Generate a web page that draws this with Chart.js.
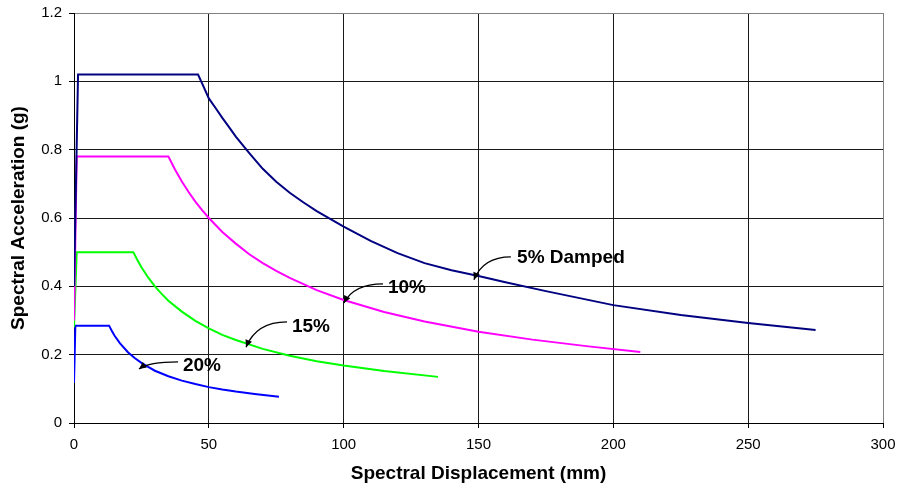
<!DOCTYPE html>
<html>
<head>
<meta charset="utf-8">
<script src="https://cdn.jsdelivr.net/npm/chart.js@4/dist/chart.umd.min.js"></script>
<style>
  html, body { margin: 0; padding: 0; background: #ffffff; }
  #wrap { width: 899px; height: 488px; }
</style>
</head>
<body>
<div id="wrap"><canvas id="grafico-espectro" width="899" height="488"></canvas></div>
<script>
// valores (Sd em mm, Sa em g)
var sd5 = [0, 1.5, 46, 48, 50, 52.5, 55, 57.5, 60, 65, 70, 75, 80, 85, 90, 100, 110, 120, 130, 140, 150, 160, 175, 200, 225, 250, 275];
var sa5 = [0.40, 1.02, 1.02, 0.985, 0.95, 0.922, 0.893, 0.866, 0.838, 0.79, 0.744, 0.706, 0.674, 0.646, 0.62, 0.575, 0.533, 0.497, 0.468, 0.447, 0.430, 0.412, 0.386, 0.345, 0.316, 0.293, 0.272];

var sd10 = [0, 1, 35, 37.5, 40, 42.5, 45, 47.5, 50, 55, 60, 65, 70, 75, 80, 90, 100, 115, 130, 150, 170, 190, 210];
var sa10 = [0.30, 0.78, 0.78, 0.741, 0.707, 0.676, 0.648, 0.623, 0.60, 0.559, 0.525, 0.494, 0.468, 0.445, 0.425, 0.389, 0.36, 0.325, 0.297, 0.267, 0.244, 0.225, 0.208];

var sd15 = [0, 1, 22, 23.5, 25, 27.5, 30, 32.5, 35, 40, 45, 50, 55, 60, 70, 80, 90, 100, 115, 135];
var sa15 = [0.28, 0.50, 0.50, 0.477, 0.456, 0.426, 0.40, 0.378, 0.358, 0.326, 0.299, 0.277, 0.258, 0.243, 0.217, 0.197, 0.181, 0.168, 0.152, 0.135];

var sd20 = [0, 0.5, 13, 14, 15, 17, 20, 22.5, 25, 27.5, 30, 35, 40, 45, 50, 55, 60, 67, 76];
var sa20 = [0.117, 0.285, 0.285, 0.270, 0.256, 0.234, 0.207, 0.190, 0.176, 0.164, 0.153, 0.137, 0.124, 0.114, 0.105, 0.098, 0.092, 0.085, 0.077];

var xTicks = [0, 50, 100, 150, 200, 250, 300];
var yTicks = [0, 0.2, 0.4, 0.6, 0.8, 1, 1.2];

// rotulos com seta: texto, posicao do texto, inicio e ponta da seta (coordenadas do grafico)
var rotulos = [
    { texto: '5% Damped', x: 164.3, y: 0.483, x0: 162.0, y0: 0.486, x1: 148.3, y1: 0.419 },
    { texto: '10%', x: 116.4, y: 0.395, x0: 114.6, y0: 0.407, x1: 100.1, y1: 0.351 },
    { texto: '15%', x: 80.8, y: 0.281, x0: 79.0, y0: 0.296, x1: 63.8, y1: 0.222 },
    { texto: '20%', x: 40.4, y: 0.167, x0: 38.6, y0: 0.179, x1: 24.1, y1: 0.158 }
];

function pontos(xs, ys) {
    return xs.map(function(v, i) { return { x: v, y: ys[i] }; });
}

var pluginRotulos = {
    id: 'rotulos',
    afterDatasetsDraw: function(chart) {
        var ctx = chart.ctx;
        var sx = chart.scales.x;
        var sy = chart.scales.y;
        ctx.save();
        ctx.fillStyle = '#000000';
        ctx.strokeStyle = '#000000';
        ctx.lineWidth = 1.3;
        ctx.font = 'bold 19px "Liberation Sans", Arial, sans-serif';
        ctx.textBaseline = 'middle';
        ctx.textAlign = 'left';
        rotulos.forEach(function(r) {
            ctx.fillText(r.texto, sx.getPixelForValue(r.x), sy.getPixelForValue(r.y));
            var ax = sx.getPixelForValue(r.x0), ay = sy.getPixelForValue(r.y0);
            var bx = sx.getPixelForValue(r.x1), by = sy.getPixelForValue(r.y1);
            // controle: sai horizontal do texto e depois desce ate a ponta
            var cx = bx + (ax - bx) * 0.25, cy = ay;
            ctx.beginPath();
            ctx.moveTo(ax, ay);
            ctx.quadraticCurveTo(cx, cy, bx, by);
            ctx.stroke();
            var ang = Math.atan2(by - cy, bx - cx);
            var len = 8, w = 0.45;
            ctx.beginPath();
            ctx.moveTo(bx, by);
            ctx.lineTo(bx - len * Math.cos(ang - w), by - len * Math.sin(ang - w));
            ctx.lineTo(bx - len * Math.cos(ang + w), by - len * Math.sin(ang + w));
            ctx.closePath();
            ctx.fill();
        });
        ctx.restore();
    }
};

var fonteTick = { family: '"Liberation Sans", Arial, sans-serif', size: 15 };
var fonteTitulo = { family: '"Liberation Sans", Arial, sans-serif', size: 19, weight: 'bold' };

var ctx = document.getElementById('grafico-espectro');
var chartEspectro = new Chart(ctx.getContext('2d'), {
    type: 'scatter',
    data: {
        datasets: [
            { label: '5% Damped', data: pontos(sd5, sa5), borderColor: '#000080' },
            { label: '10%', data: pontos(sd10, sa10), borderColor: '#ff00ff' },
            { label: '15%', data: pontos(sd15, sa15), borderColor: '#00ff00' },
            { label: '20%', data: pontos(sd20, sa20), borderColor: '#0000ff' }
        ].map(function(ds) {
            ds.showLine = true;
            ds.borderWidth = 2;
            ds.pointRadius = 0;
            ds.tension = 0;
            ds.fill = false;
            return ds;
        })
    },
    options: {
        responsive: false,
        animation: false,
        devicePixelRatio: 1,
        layout: { padding: { left: 0, top: 13, right: 16, bottom: 0 } },
        plugins: { legend: { display: false }, tooltip: { enabled: false } },
        scales: {
            x: {
                type: 'linear',
                min: 0, max: 300,
                afterBuildTicks: function(s) { s.ticks = xTicks.map(function(v) { return { value: v }; }); },
                afterFit: function(s) { s.height = 65; s.paddingLeft = 0; s.paddingRight = 0; },
                border: { color: '#000000', width: 1 },
                grid: {
                    color: function(c) { return c.tick && c.tick.value === 300 ? '#808080' : '#1a1a1a'; },
                    tickColor: '#000000',
                    tickLength: 5,
                    lineWidth: 1
                },
                ticks: { color: '#000000', font: fonteTick, padding: 8, maxRotation: 0 },
                title: {
                    display: true,
                    text: 'Spectral Displacement (mm)',
                    color: '#000000',
                    font: fonteTitulo,
                    padding: { top: 0, bottom: 3 }
                }
            },
            y: {
                min: 0, max: 1.2,
                afterBuildTicks: function(s) { s.ticks = yTicks.map(function(v) { return { value: v }; }); },
                afterFit: function(s) { s.width = 74; s.paddingTop = 0; s.paddingBottom = 0; },
                border: { color: '#000000', width: 1 },
                grid: {
                    color: function(c) { return c.tick && c.tick.value === 1.2 ? '#808080' : '#1a1a1a'; },
                    tickColor: '#000000',
                    tickLength: 5,
                    lineWidth: 1
                },
                ticks: {
                    color: '#000000',
                    font: fonteTick,
                    padding: 7,
                    callback: function(v) { return String(Math.round(v * 10) / 10); }
                },
                title: {
                    display: true,
                    text: 'Spectral Acceleration (g)',
                    color: '#000000',
                    font: fonteTitulo,
                    padding: { top: 7, bottom: 0 }
                }
            }
        }
    },
    plugins: [pluginRotulos]
});
</script>
</body>
</html>
